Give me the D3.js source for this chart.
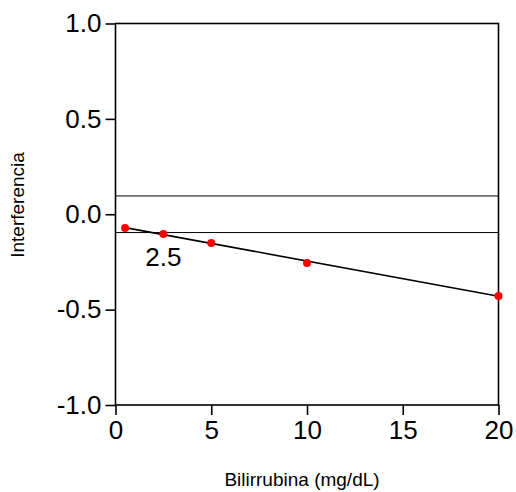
<!DOCTYPE html>
<html>
<head>
<meta charset="utf-8">
<script src="https://cdn.jsdelivr.net/npm/d3@7"></script>
<style>
  body { margin: 0; background: #fff; }
  text { font-family: "Liberation Sans", Arial, sans-serif; fill: #000; }
</style>
</head>
<body>
<div id="chart"></div>
<script>
var width = 516, height = 492;

// bilirubin concentrations (mg/dL) and measured interference
var bili = [0.5, 2.5, 5, 10, 20];
var interf = [-0.072, -0.104, -0.151, -0.255, -0.428];

// fitted line end points
var fitX = [0.5, 20];
var fitY = [-0.07, -0.43];

// acceptance limits
var limits = [0.096, -0.096];

var xTicks = [0, 5, 10, 15, 20];
var yTicks = [-1.0, -0.5, 0.0, 0.5, 1.0];

var labelText = '2.5';

var pLeft = 115.5, pRight = 498.5, pTop = 23.5, pBottom = 405;

var svg = d3.select('#chart').append('svg')
  .attr('width', width)
  .attr('height', height);

var x = d3.scaleLinear().domain([0, 20]).range([pLeft, pRight]);
var y = d3.scaleLinear().domain([-1, 1]).range([pBottom, pTop]);

// frame
svg.append('rect')
  .attr('x', pLeft)
  .attr('y', pTop)
  .attr('width', pRight - pLeft)
  .attr('height', pBottom - pTop)
  .attr('fill', 'none')
  .attr('stroke', '#000')
  .attr('stroke-width', 1.6);

var yAxis = svg.append('g')
  .attr('transform', 'translate(' + pLeft + ',0)')
  .call(d3.axisLeft(y).tickValues(yTicks).tickSizeOuter(0).tickSize(10).tickPadding(4));

var xAxis = svg.append('g')
  .attr('transform', 'translate(0,' + pBottom + ')')
  .call(d3.axisBottom(x).tickValues(xTicks).tickSizeOuter(0).tickSize(10).tickPadding(6));

[yAxis, xAxis].forEach(function(a) {
  a.select('.domain').remove();
  a.selectAll('line').attr('stroke', '#000').attr('stroke-width', 1.6);
  a.selectAll('text')
    .style('font-family', '"Liberation Sans", Arial, sans-serif')
    .style('font-size', '26px')
    .attr('fill', '#000');
});
yAxis.selectAll('text').text(function(d) { return d3.format('.1f')(d).replace('−', '-'); });

// limit lines
svg.selectAll('.limit')
  .data(limits)
  .enter()
  .append('line')
  .attr('class', 'limit')
  .attr('x1', pLeft)
  .attr('x2', pRight)
  .attr('y1', function(d) { return y(d); })
  .attr('y2', function(d) { return y(d); })
  .attr('stroke', '#000')
  .attr('stroke-width', 1);

// fitted line
svg.append('line')
  .attr('x1', x(fitX[0]))
  .attr('y1', y(fitY[0]))
  .attr('x2', x(fitX[1]))
  .attr('y2', y(fitY[1]))
  .attr('stroke', '#000')
  .attr('stroke-width', 1.6);

svg.selectAll('.pt')
  .data(bili)
  .enter()
  .append('circle')
  .attr('class', 'pt')
  .attr('cx', function(d) { return x(d); })
  .attr('cy', function(d, i) { return y(interf[i]); })
  .attr('r', 4)
  .attr('fill', '#ff0000');

// annotation under second point
svg.append('text')
  .attr('x', x(bili[1]))
  .attr('y', y(interf[1]) + 32)
  .attr('text-anchor', 'middle')
  .style('font-size', '26px')
  .text(labelText);

svg.append('text')
  .attr('x', (pLeft + pRight) / 2 - 5)
  .attr('y', 486)
  .attr('text-anchor', 'middle')
  .style('font-size', '19px')
  .text('Bilirrubina (mg/dL)');

svg.append('text')
  .attr('transform', 'translate(24,' + 205 + ') rotate(-90)')
  .attr('text-anchor', 'middle')
  .style('font-size', '19px')
  .text('Interferencia');
</script>
</body>
</html>
